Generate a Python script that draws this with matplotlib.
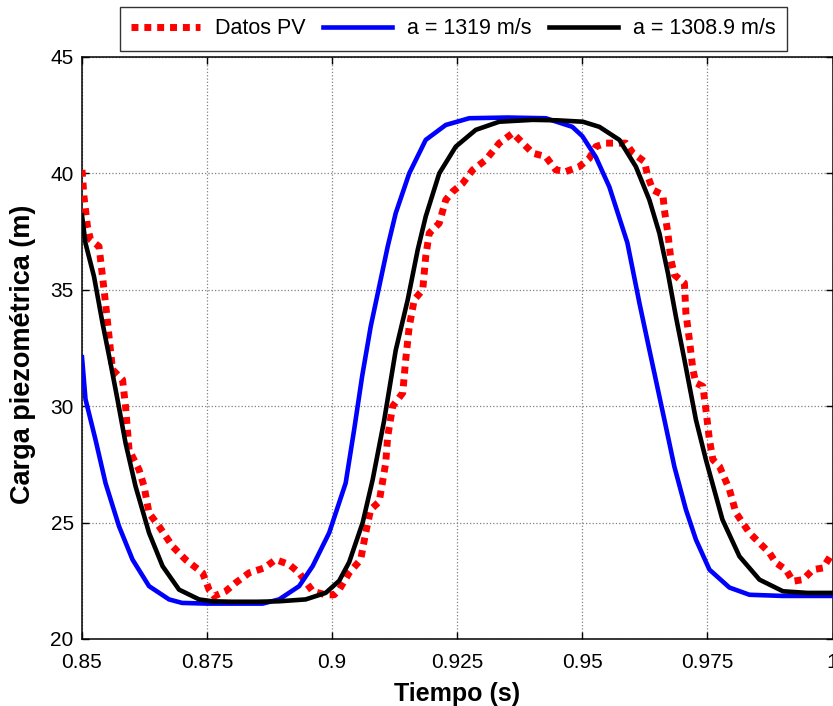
import matplotlib
matplotlib.use("Agg")
import matplotlib.pyplot as plt

plt.rcParams['font.family'] = ['Liberation Sans', 'DejaVu Sans']

# ---- data ----
t_pv = [0.85, 0.8504, 0.8511, 0.8517, 0.8534, 0.8541, 0.8547, 0.8554, 0.8561, 0.8581,
        0.8587, 0.8594, 0.8614, 0.8624, 0.8634, 0.8654, 0.8681, 0.8707, 0.8741, 0.8754,
        0.8764, 0.8787, 0.8807, 0.8834, 0.8864, 0.8887, 0.8914, 0.8934, 0.8961, 0.8987,
        0.9004, 0.9014, 0.9034, 0.9057, 0.9067, 0.9077, 0.9094, 0.9107, 0.9111, 0.9121,
        0.9141, 0.9147, 0.9154, 0.9164, 0.9181, 0.9187, 0.9194, 0.9214, 0.9227, 0.9241,
        0.9261, 0.9281, 0.9307, 0.9334, 0.9361, 0.9381, 0.9401, 0.9427, 0.9447, 0.9467,
        0.9494, 0.9514, 0.9527, 0.9547, 0.9587, 0.9601, 0.9624, 0.9631, 0.9641, 0.9661,
        0.9664, 0.9671, 0.9677, 0.9684, 0.9704, 0.9707, 0.9714, 0.9721, 0.9727, 0.9741,
        0.9747, 0.9754, 0.9761, 0.9774, 0.9794, 0.9807, 0.9834, 0.9854, 0.9874, 0.9887,
        0.9907, 0.9921, 0.9941, 0.9961, 0.9981, 1.0]
h_pv = [40.15, 39.0, 37.7, 37.15, 36.86, 35.57, 34.43, 33.0, 31.57, 31.14,
        30.0, 28.13, 27.27, 26.56, 25.41, 24.84, 23.98, 23.41, 22.84, 22.12,
        21.84, 22.05, 22.41, 22.84, 23.05, 23.41, 23.2, 22.84, 22.05, 21.9,
        21.9, 22.12, 22.84, 23.41, 24.56, 25.56, 25.9, 27.56, 28.7, 30.0,
        30.57, 32.0, 33.42, 34.57, 35.0, 36.43, 37.43, 37.86, 38.86, 39.22,
        39.58, 40.15, 40.58, 41.3, 41.73, 41.3, 40.87, 40.72, 40.15, 40.08,
        40.29, 40.65, 41.15, 41.3, 41.3, 40.87, 40.51, 39.86, 39.29, 39.08,
        38.43, 37.43, 36.29, 35.64, 35.29, 34.0, 32.85, 31.57, 31.0, 30.85,
        29.85, 28.56, 27.7, 27.42, 26.42, 25.42, 24.56, 24.13, 23.7, 23.27,
        22.98, 22.48, 22.55, 22.98, 23.05, 23.7]

t_a1 = [0.85, 0.8507, 0.8527, 0.8547, 0.8574, 0.8601, 0.8634, 0.8674, 0.87, 0.875,
        0.88, 0.8861, 0.8894, 0.8934, 0.8961, 0.8994, 0.9027, 0.9044, 0.906, 0.9077,
        0.9094, 0.9111, 0.9127, 0.9154, 0.9187, 0.9227, 0.9274, 0.935, 0.9427, 0.948,
        0.95, 0.9527, 0.9554, 0.959, 0.9614, 0.9634, 0.9664, 0.9684, 0.9707, 0.9727,
        0.9754, 0.9794, 0.9834, 0.99, 1.0]
h_a1 = [32.1, 30.3, 28.56, 26.7, 24.84, 23.41, 22.27, 21.7, 21.55, 21.52,
        21.52, 21.52, 21.7, 22.27, 23.13, 24.56, 26.7, 29.0, 31.3, 33.42,
        35.14, 36.86, 38.29, 40.0, 41.44, 42.08, 42.37, 42.4, 42.37, 42.0,
        41.6, 40.7, 39.42, 37.02, 34.44, 32.42, 29.42, 27.4, 25.56, 24.27,
        22.98, 22.21, 21.9, 21.85, 21.85]

t_a2 = [0.85, 0.8507, 0.8524, 0.8541, 0.8557, 0.8571, 0.8587, 0.8607, 0.8634, 0.8661,
        0.8694, 0.8734, 0.876, 0.88, 0.885, 0.8894, 0.8947, 0.8987, 0.9014, 0.9034,
        0.9061, 0.9081, 0.9104, 0.9127, 0.9151, 0.9171, 0.9187, 0.9214, 0.9247, 0.9287,
        0.9334, 0.9401, 0.945, 0.9501, 0.9534, 0.9574, 0.9607, 0.9634, 0.9654, 0.9671,
        0.9687, 0.9704, 0.9727, 0.9747, 0.978, 0.9814, 0.9854, 0.9901, 0.995, 1.0]
h_a2 = [38.2, 37.0, 35.57, 33.57, 31.85, 30.28, 28.42, 26.56, 24.56, 23.13,
        22.12, 21.7, 21.62, 21.6, 21.6, 21.62, 21.7, 21.98, 22.5, 23.3,
        25.0, 26.85, 29.4, 32.4, 34.57, 36.72, 38.15, 40.0, 41.15, 41.87,
        42.22, 42.3, 42.28, 42.22, 42.0, 41.44, 40.29, 38.86, 37.43, 35.72,
        33.85, 32.0, 29.42, 27.7, 25.13, 23.55, 22.55, 22.05, 21.98, 21.98]

labels = ['Datos PV', 'a = 1319 m/s', 'a = 1308.9 m/s']
x_ticks = [0.85, 0.875, 0.9, 0.925, 0.95, 0.975, 1.0]
x_ticklabels = ['0.85', '0.875', '0.9', '0.925', '0.95', '0.975', '1']
y_ticks = [20, 25, 30, 35, 40, 45]

# ---- figure ----
fig = plt.figure(figsize=(8.33, 7.06), dpi=100)
ax = fig.add_axes([82/833, 67/706, (833-82)/833 - 0.0006, (639-57)/706])

l1, = ax.plot(t_pv, h_pv, color='#ff0000', lw=5, linestyle=(0, (1.0, 0.85)),
              dash_capstyle='butt', label=labels[0], zorder=3)
l2, = ax.plot(t_a1, h_a1, color='#0000ff', lw=3.3, label=labels[1], zorder=4)
l3, = ax.plot(t_a2, h_a2, color='#000000', lw=3.3, label=labels[2], zorder=5)

ax.set_xlim(0.85, 1.0)
ax.set_ylim(20, 45)
ax.set_xticks(x_ticks)
ax.set_xticklabels(x_ticklabels)
ax.set_yticks(y_ticks)
ax.grid(True, color='#808080', linestyle=':', linewidth=0.9)
ax.tick_params(direction='in', top=True, right=True, length=5, width=1,
               labelsize=15)
ax.tick_params(axis='x', pad=10)
ax.tick_params(axis='y', pad=6)
for s in ax.spines.values():
    s.set_linewidth(1.1)

ax.set_xlabel('Tiempo (s)', fontsize=18, fontweight='bold', labelpad=7)
ax.set_ylabel('Carga piezométrica (m)', fontsize=19.5, fontweight='bold')
ax.yaxis.set_label_coords(-0.061, 0.49)

leg = fig.legend(handles=[l1, l2, l3], loc='center', ncol=3,
                 bbox_to_anchor=(453.5/833, 1 - 29/706),
                 fontsize=15.5, frameon=True, fancybox=False,
                 handlelength=3.2, handletextpad=0.7, columnspacing=0.8,
                 borderpad=0.55, edgecolor='black')
leg.get_frame().set_linewidth(1.0)

fig.savefig('out.png', dpi=100)
